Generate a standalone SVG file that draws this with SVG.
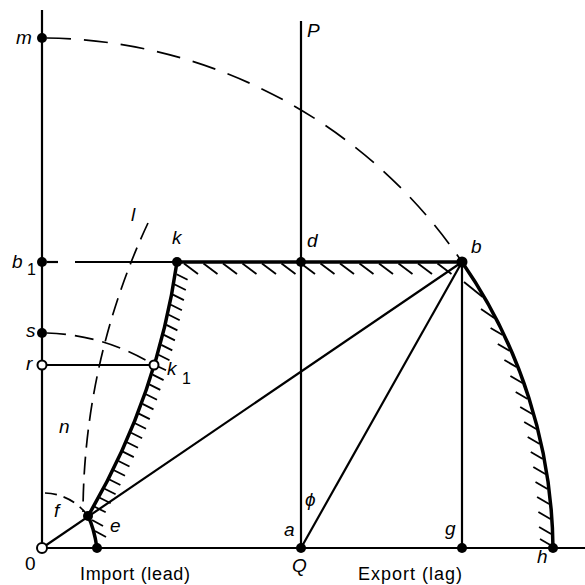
<svg xmlns="http://www.w3.org/2000/svg" width="585" height="585" viewBox="0 0 585 585">
<style>
.ln{stroke:#000;stroke-width:2.2;fill:none;stroke-linecap:butt}
.thk{stroke:#000;stroke-width:3.5;fill:none}
.ht{stroke:#000;stroke-width:1.8;fill:none}
.dl{stroke:#000;stroke-width:1.7;fill:none;stroke-dasharray:24 13}
.ds{stroke:#000;stroke-width:1.7;fill:none;stroke-dasharray:19 9}
.df{stroke:#000;stroke-width:1.7;fill:none;stroke-dasharray:12 7}
.dot{fill:#000}
.hol{fill:#fff;stroke:#000;stroke-width:2}
text{font-family:"Liberation Sans",Arial,sans-serif;font-size:19px;fill:#000}
.it{font-style:italic}
.ax{font-size:18px}
</style>
<rect width="585" height="585" fill="#fff"/>
<g id="connectors">
  <line class="ln" x1="42" y1="10" x2="42" y2="548"/>
  <line class="ln" x1="42" y1="548" x2="585" y2="548"/>
  <line class="ln" x1="301" y1="21" x2="301" y2="548"/>
  <line class="ln" x1="47" y1="262" x2="58" y2="262"/>
  <line class="ln" x1="75" y1="262" x2="177" y2="262"/>
  <line class="ln" x1="42" y1="365" x2="154" y2="365"/>
  <line class="ln" x1="42" y1="548" x2="462" y2="262"/>
  <line class="ln" x1="301" y1="548" x2="462" y2="262"/>
  <line class="ln" x1="462" y1="262" x2="462" y2="548"/>
  <path class="dl" d="M47,38 A510,510 0 0 1 462,262"/>
  <path class="ds" d="M47,333 A215,215 0 0 1 154,365"/>
  <path class="df" d="M45,493 A55,55 0 0 1 88,516"/>
  <path class="ds" d="M148,223 A688,688 0 0 0 83,512" style="stroke-dasharray:18 9"/>
  <line class="thk" x1="177" y1="262" x2="462" y2="262"/>
  <path class="thk" d="M177,262 A696,696 0 0 1 88,516"/>
  <path class="thk" d="M88,516 Q94,528 97,548"/>
  <path class="thk" d="M462,262 A511,511 0 0 1 553,548"/>
  <g id="hatch-top">
    <line class="ht" x1="184" y1="263.5" x2="198" y2="274"/>
    <line class="ht" x1="203.5" y1="263.5" x2="217.5" y2="274"/>
    <line class="ht" x1="223" y1="263.5" x2="237" y2="274"/>
    <line class="ht" x1="242.5" y1="263.5" x2="256.5" y2="274"/>
    <line class="ht" x1="262" y1="263.5" x2="276" y2="274"/>
    <line class="ht" x1="281.5" y1="263.5" x2="295.5" y2="274"/>
    <line class="ht" x1="301" y1="263.5" x2="315" y2="274"/>
    <line class="ht" x1="320.5" y1="263.5" x2="334.5" y2="274"/>
    <line class="ht" x1="340" y1="263.5" x2="354" y2="274"/>
    <line class="ht" x1="359.5" y1="263.5" x2="373.5" y2="274"/>
    <line class="ht" x1="379" y1="263.5" x2="393" y2="274"/>
    <line class="ht" x1="398.5" y1="263.5" x2="412.5" y2="274"/>
    <line class="ht" x1="418" y1="263.5" x2="432" y2="274"/>
    <line class="ht" x1="437.5" y1="263.5" x2="451.5" y2="274"/>
  </g>
  <g id="hatch-left">
    <line class="ht" x1="176.6" y1="274.3" x2="187.6" y2="279.8"/>
    <line class="ht" x1="174.8" y1="284.5" x2="185.8" y2="290"/>
    <line class="ht" x1="172.9" y1="294.6" x2="183.9" y2="300.1"/>
    <line class="ht" x1="170.9" y1="304.7" x2="181.9" y2="310.2"/>
    <line class="ht" x1="168.7" y1="314.8" x2="179.7" y2="320.3"/>
    <line class="ht" x1="166.4" y1="324.9" x2="177.4" y2="330.4"/>
    <line class="ht" x1="163.9" y1="334.9" x2="174.9" y2="340.4"/>
    <line class="ht" x1="161.3" y1="344.9" x2="172.3" y2="350.4"/>
    <line class="ht" x1="158.5" y1="354.8" x2="169.5" y2="360.3"/>
    <line class="ht" x1="157" y1="366" x2="166" y2="370.2"/>
    <line class="ht" x1="152.6" y1="374.6" x2="163.6" y2="380.1"/>
    <line class="ht" x1="149.3" y1="384.4" x2="160.3" y2="389.9"/>
    <line class="ht" x1="146" y1="394.2" x2="157" y2="399.7"/>
    <line class="ht" x1="142.5" y1="403.9" x2="153.5" y2="409.4"/>
    <line class="ht" x1="138.8" y1="413.6" x2="149.8" y2="419.1"/>
    <line class="ht" x1="135" y1="423.2" x2="146" y2="428.7"/>
    <line class="ht" x1="131.1" y1="432.7" x2="142.1" y2="438.2"/>
    <line class="ht" x1="127" y1="442.2" x2="138" y2="447.7"/>
    <line class="ht" x1="122.8" y1="451.6" x2="133.8" y2="457.1"/>
    <line class="ht" x1="118.5" y1="461" x2="129.5" y2="466.5"/>
    <line class="ht" x1="114" y1="470.3" x2="125" y2="475.8"/>
    <line class="ht" x1="109.4" y1="479.5" x2="120.4" y2="485"/>
    <line class="ht" x1="104.6" y1="488.7" x2="115.6" y2="494.2"/>
    <line class="ht" x1="99.7" y1="497.8" x2="110.7" y2="503.3"/>
    <line class="ht" x1="94.7" y1="506.8" x2="105.7" y2="512.3"/>
    <line class="ht" x1="92" y1="520" x2="103" y2="526"/>
    <line class="ht" x1="95" y1="531" x2="106" y2="537"/>
  </g>
  <g id="hatch-right">
    <line class="ht" x1="464" y1="282" x2="482.7" y2="297"/>
    <line class="ht" x1="481" y1="309" x2="494.2" y2="318"/>
    <line class="ht" x1="490.6" y1="328" x2="502.6" y2="335"/>
    <line class="ht" x1="497.8" y1="344" x2="509.8" y2="351"/>
    <line class="ht" x1="504.4" y1="360" x2="516.4" y2="367"/>
    <line class="ht" x1="510.4" y1="376" x2="522.4" y2="383"/>
    <line class="ht" x1="515.7" y1="392" x2="527.7" y2="399"/>
    <line class="ht" x1="520.2" y1="407" x2="532.2" y2="414"/>
    <line class="ht" x1="524.2" y1="422" x2="536.2" y2="429"/>
    <line class="ht" x1="527.7" y1="437" x2="539.7" y2="444"/>
    <line class="ht" x1="530.8" y1="452" x2="542.8" y2="459"/>
    <line class="ht" x1="533.3" y1="467" x2="545.3" y2="474"/>
    <line class="ht" x1="535.5" y1="482" x2="547.5" y2="489"/>
    <line class="ht" x1="537.1" y1="497" x2="549.1" y2="504"/>
    <line class="ht" x1="538.4" y1="512" x2="550.4" y2="519"/>
    <line class="ht" x1="539.1" y1="527" x2="551.1" y2="534"/>
    <line class="ht" x1="540" y1="539" x2="552" y2="546"/>
  </g>
</g>
<g id="node-m"><circle class="dot" cx="42" cy="38" r="5"/><text class="it" x="16" y="44">m</text></g>
<g id="node-P"><text class="it" x="307" y="37">P</text></g>
<g id="node-b1"><circle class="dot" cx="42" cy="262" r="5"/><text class="it" x="12" y="268">b<tspan x="27" y="275" style="font-style:normal;font-size:16px">1</tspan></text></g>
<g id="node-k"><circle class="dot" cx="177" cy="262" r="5"/><text class="it" x="172" y="244">k</text></g>
<g id="node-d"><circle class="dot" cx="301" cy="262" r="5"/><text class="it" x="307" y="247">d</text></g>
<g id="node-b"><circle class="dot" cx="462" cy="262" r="5.5"/><text class="it" x="471" y="253">b</text></g>
<g id="node-s"><circle class="dot" cx="42" cy="333" r="5"/><text class="it" x="26" y="337">s</text></g>
<g id="node-r"><circle class="hol" cx="42" cy="365" r="4.5"/><text class="it" x="26" y="370">r</text></g>
<g id="node-k1"><circle class="hol" cx="154" cy="365" r="4.5"/><text class="it" x="167" y="375">k<tspan x="182" y="384" style="font-style:normal;font-size:16px">1</tspan></text></g>
<g id="node-l"><text class="it" x="131" y="221">l</text></g>
<g id="node-n"><text class="it" x="59" y="433">n</text></g>
<g id="node-f"><text class="it" x="54" y="517">f</text></g>
<g id="node-e"><circle class="dot" cx="88" cy="516" r="5"/><text class="it" x="110" y="532">e</text></g>
<g id="node-e0"><circle class="dot" cx="97" cy="548" r="5"/></g>
<g id="node-0"><circle class="hol" cx="42" cy="548" r="5"/><text x="25" y="570">0</text></g>
<g id="node-Q"><circle class="dot" cx="301" cy="548" r="5"/><text class="it" x="292" y="572">Q</text><text class="it" x="284" y="536">a</text><text class="it" x="305" y="506">ϕ</text></g>
<g id="node-g"><circle class="dot" cx="462" cy="548" r="5"/><text class="it" x="445" y="535">g</text></g>
<g id="node-h"><circle class="dot" cx="553" cy="548" r="5"/><text class="it" x="537" y="563">h</text></g>
<g id="axis-labels">
  <text class="ax" x="80" y="580" textLength="110">Import (lead)</text>
  <text class="ax" x="358" y="580" textLength="104">Export (lag)</text>
</g>
</svg>
